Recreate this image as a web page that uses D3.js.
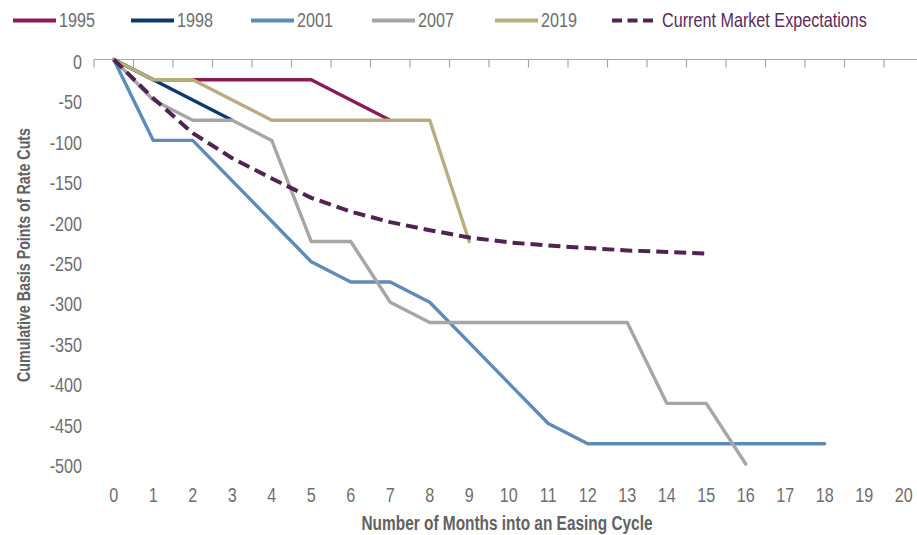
<!DOCTYPE html>
<html>
<head>
<meta charset="utf-8">
<script src="https://cdn.jsdelivr.net/npm/d3@7"></script>
<style>
  html, body { margin: 0; padding: 0; background: #fff; }
  svg { display: block; }
  text { font-family: "Liberation Sans", Arial, sans-serif; }
</style>
</head>
<body>
<svg id="chart" width="917" height="535"></svg>
<script>
// ---- data ----
const months = d3.range(0, 21);             // x categories 0..20
const yTicks = [0, -50, -100, -150, -200, -250, -300, -350, -400, -450, -500];
const seriesNames = ["1995", "1998", "2001", "2007", "2019", "Current Market Expectations"];
const s1995 = [0, -25, -25, -25, -25, -25, -50, -75];
const s1998 = [0, -25, -50, -75];
const s2001 = [0, -100, -100, -150, -200, -250, -275, -275, -300, -350, -400, -450, -475, -475, -475, -475, -475, -475, -475];
const s2007 = [0, -50, -75, -75, -100, -225, -225, -300, -325, -325, -325, -325, -325, -325, -425, -425, -500];
const s2019 = [0, -25, -25, -50, -75, -75, -75, -75, -75, -225];
const sExpect = [0, -48, -91, -122, -147, -171, -188, -201, -211, -220, -226, -230, -233, -236, -238, -240];
const colors = ["#8b1b57", "#0c3a6c", "#5e8bb8", "#a6a6a6", "#b8ad7e", "#4f2352"];

const allSeries = [s1995, s1998, s2001, s2007, s2019, sExpect];

(function () {
const svg = d3.select("#chart");
const pLeft = 94, pRight = 94 + 21 * 39.5, pTop = 59.5, pBottom = 464;
const SX = 0.83;           // narrow-font emulation
const FS = 19.5;

const x = d3.scaleBand().domain(months).range([pLeft, pRight]).paddingInner(0).paddingOuter(0);
const xc = d => x(d) + x.bandwidth() / 2;
const y = d3.scaleLinear().domain([0, -500]).range([pTop, pBottom]);

const textColor = "#6e6e6e";

// x axis at y=0 (top)
const xAxis = d3.axisBottom(x).tickSize(0).tickFormat("");
const gx = svg.append("g").attr("transform", `translate(0,${y(0)})`).call(xAxis);
gx.selectAll(".tick").remove();
gx.select(".domain").attr("stroke", "#a6a6a6").attr("stroke-width", 1.2)
  .attr("d", `M${pLeft},0V0H917`);
// category boundary ticks
gx.selectAll("line.bt").data(months).enter().append("line")
  .attr("class", "bt")
  .attr("x1", d => x(d)).attr("x2", d => x(d))
  .attr("y1", 0).attr("y2", 8)
  .attr("stroke", "#a6a6a6").attr("stroke-width", 1.2);

// x tick labels at bottom
svg.append("g").selectAll("text").data(months).enter().append("text")
  .attr("transform", d => `translate(${xc(d)},495) scale(${SX},1)`)
  .attr("text-anchor", "middle").attr("dominant-baseline", "central")
  .attr("fill", textColor).attr("font-size", FS)
  .text(d => d);

// y tick labels
const yAxis = d3.axisLeft(y).tickValues(yTicks).tickSize(0).tickPadding(0)
  .tickFormat(d => String(d));
const gy = svg.append("g").attr("transform", `translate(82,2.5)`).call(yAxis);
gy.select(".domain").remove();
gy.selectAll("text").attr("fill", textColor).attr("font-size", FS)
  .attr("transform", `scale(${SX},1)`)
  .style("font-family", '"Liberation Sans", Arial, sans-serif');

// axis titles
svg.append("text").attr("x", 507).attr("y", 523)
  .attr("text-anchor", "middle").attr("dominant-baseline", "central")
  .attr("fill", "#626262").attr("font-size", 20).attr("font-weight", "bold")
  .attr("textLength", 291).attr("lengthAdjust", "spacingAndGlyphs")
  .text("Number of Months into an Easing Cycle");
svg.append("text")
  .attr("transform", "translate(24,255) rotate(-90)")
  .attr("text-anchor", "middle").attr("dominant-baseline", "central")
  .attr("fill", "#626262").attr("font-size", 18).attr("font-weight", "bold")
  .attr("textLength", 254).attr("lengthAdjust", "spacingAndGlyphs")
  .text("Cumulative Basis Points of Rate Cuts");

// lines
const line = d3.line().x((d, i) => xc(months[i])).y(d => y(d));
allSeries.forEach((s, k) => {
  const p = svg.append("path").datum(s)
    .attr("fill", "none")
    .attr("stroke", colors[k])
    .attr("stroke-width", k === 5 ? 4 : 3.4)
    .attr("stroke-linejoin", "round")
    .attr("stroke-linecap", k === 5 ? "butt" : "round")
    .attr("d", line);
  if (k === 5) p.attr("stroke-dasharray", "12,6");
});

// legend
const legendX = [13, 131, 251, 372, 495, 612];
const lg = svg.append("g");
seriesNames.forEach((n, k) => {
  const g = lg.append("g").attr("transform", `translate(${legendX[k]},20.5)`);
  g.append("line").attr("x1", 0).attr("x2", k === 5 ? 41 : 43).attr("y1", 0).attr("y2", 0)
    .attr("stroke", colors[k]).attr("stroke-width", 4)
    .attr("stroke-dasharray", k === 5 ? "10,5.5" : null);
  g.append("text")
    .attr("transform", `translate(${k === 5 ? 50 : 46},0) scale(${SX},1)`)
    .attr("dominant-baseline", "central")
    .attr("fill", k === 5 ? "#5a2a5c" : textColor).attr("font-size", FS)
    .text(n);
});
})();
</script>
</body>
</html>
